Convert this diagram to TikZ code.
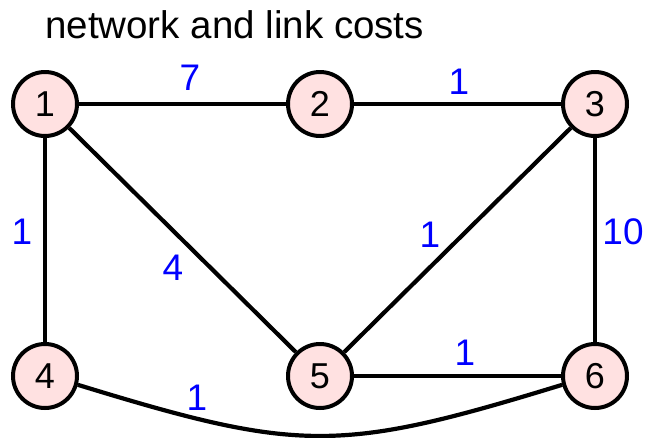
\documentclass[tikz,border=0pt]{standalone}
\usepackage{fontspec}
\setmainfont{Liberation Sans}
\begin{document}
\begin{tikzpicture}[x=1pt,y=-1pt,
  vertex/.style={circle,draw=black,line width=4pt,fill=nodepink,minimum size=64pt,inner sep=0pt,font=\fontsize{36}{38}\selectfont},
  cost/.style={text=blue,inner sep=0pt,font=\fontsize{37}{40}\selectfont},
  link/.style={line width=4.2pt,draw=black}]
\definecolor{nodepink}{RGB}{255,225,225}
\useasboundingbox (0,0) rectangle (645,437);
\node[anchor=base west,inner sep=0pt,font=\fontsize{38.5}{42}\selectfont] (title) at (45,38) {network and link costs};
\node[vertex] (n1) at (45,104) {1};
\node[vertex] (n2) at (320,104) {2};
\node[vertex] (n3) at (595,104) {3};
\node[vertex] (n4) at (45,376) {4};
\node[vertex] (n5) at (320,376) {5};
\node[vertex] (n6) at (595,376) {6};
\draw[link] (n1) -- (n2);
\draw[link] (n2) -- (n3);
\draw[link] (n1) -- (n4);
\draw[link] (n1) -- (n5);
\draw[link] (n3) -- (n5);
\draw[link] (n3) -- (n6);
\draw[link] (n5) -- (n6);
\draw[link] (n4.-15) .. controls (300,453) and (340,453) .. (n6.195);
\node[cost] (c12) at (190,78) {7};
\node[cost] (c23) at (459,82) {1};
\node[cost] (c14) at (22,232) {1};
\node[cost] (c15) at (173,268) {4};
\node[cost] (c35) at (430,235) {1};
\node[cost] (c36) at (623,232) {10};
\node[cost] (c56) at (465,353) {1};
\node[cost] (c46) at (197,398) {1};
\end{tikzpicture}
\end{document}
